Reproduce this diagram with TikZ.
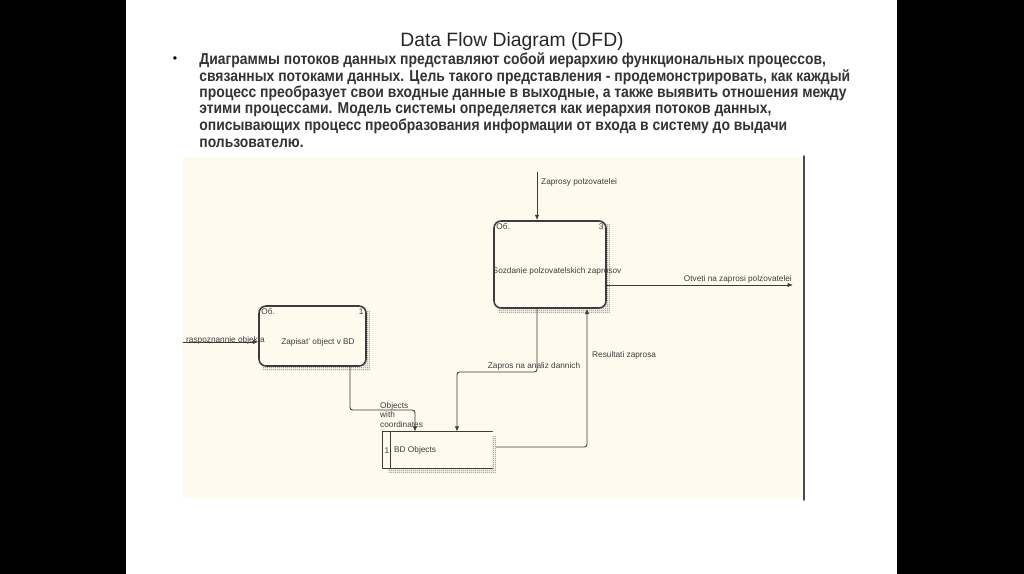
\documentclass[tikz,border=0pt]{standalone}
\usepackage{fontspec}
\setmainfont{Liberation Sans}
\newfontfamily\narrowfont[FakeStretch=0.88]{Liberation Sans Bold}
\usetikzlibrary{patterns,arrows.meta}
\definecolor{cream}{RGB}{255,250,238}
\definecolor{ink}{RGB}{60,60,60}
\pgfdeclarepatternformonly{finecheck}{\pgfpointorigin}{\pgfqpoint{1.2pt}{1.2pt}}{\pgfqpoint{1.2pt}{1.2pt}}{%
  \pgfpathrectangle{\pgfpointorigin}{\pgfqpoint{0.6pt}{0.6pt}}%
  \pgfpathrectangle{\pgfqpoint{0.6pt}{0.6pt}}{\pgfqpoint{0.6pt}{0.6pt}}%
  \pgfusepath{fill}}
\tikzset{
  proc/.style={draw=ink, line width=0.9pt, rounded corners=4pt, fill=cream, inner sep=0pt},
  shade/.style={pattern=finecheck, pattern color=gray},
  flow/.style={draw=ink, line width=0.5pt, rounded corners=1.5pt, -{Latex[length=3pt,width=2.5pt]}},
  tiny/.style={font=\fontsize{4.7}{5.6}\selectfont, inner sep=0.5pt, text=ink},
  bodyline/.style={anchor=west, inner sep=0pt, font=\narrowfont\fontsize{9}{10}\selectfont, text=black!80}
}
\begin{document}
\begin{tikzpicture}[x=0.02cm, y=-0.02cm, line join=round, line cap=round]
  % slide and side bars
  \fill[black] (0,0) rectangle (1024,574);
  \fill[white] (126,0) rectangle (897,574);
  \useasboundingbox (0,0) rectangle (1024,574);
  % heading and text
  \node[font=\fontsize{11}{12}\selectfont, text=black!85] (title) at (512,42) {Data Flow Diagram (DFD)};
  \node[font=\fontsize{7}{8}\selectfont] (bullet) at (175,60) {\textbullet};
  \node[bodyline] (l1) at (199,60) {Диаграммы потоков данных представляют собой иерархию функциональных процессов,};
  \node[bodyline] (l2) at (199,77) {связанных потоками данных. Цель такого представления - продемонстрировать, как каждый};
  \node[bodyline] (l3) at (199,93) {процесс преобразует свои входные данные в выходные, а также выявить отношения между};
  \node[bodyline] (l4) at (199,110) {этими процессами. Модель системы определяется как иерархия потоков данных,};
  \node[bodyline] (l5) at (199,126) {описывающих процесс преобразования информации от входа в систему до выдачи};
  \node[bodyline] (l6) at (199,143) {пользователю.};
  % diagram panel
  \fill[cream] (183,157) rectangle (804,498);
  \draw[gray!60!black, line width=1.1pt] (804,156) -- (804,500);

  % processes with hatched shadows
  \fill[shade] (263,310) rectangle (370,370);
  \node[proc, minimum width=107*0.02cm, minimum height=60*0.02cm] (p1) at (312.5,336) {};
  \fill[shade] (498,225) rectangle (610,312);
  \node[proc, minimum width=112*0.02cm, minimum height=87*0.02cm] (p3) at (550,264.5) {};
  \node[tiny, anchor=north west] (p1id) at ([shift={(2,2)}]p1.north west) {Об.};
  \node[tiny, anchor=north east] (p1no) at ([shift={(-2,2)}]p1.north east) {1};
  \node[tiny] (p1txt) at (318,342) {Zapisat' object v BD};
  \node[tiny, anchor=north west] (p3id) at ([shift={(2,2)}]p3.north west) {Об.};
  \node[tiny, anchor=north east] (p3no) at ([shift={(-2,2)}]p3.north east) {3};
  \node[tiny] (p3txt) at (557,271) {Sozdanie polzovatelskich zaprosov};

  % data store
  \fill[shade] (388,436) rectangle (496,472);
  \node[fill=cream, minimum width=109*0.02cm, minimum height=36*0.02cm, inner sep=0pt] (s) at (437.5,450) {};
  \draw[ink, line width=0.8pt] (s.north east) -- (s.north west) -- (s.south west) -- (s.south east);
  \draw[ink, line width=0.8pt] ([xshift=8*0.02cm]s.north west) -- ([xshift=8*0.02cm]s.south west);
  \node[tiny] (sno) at (387,451) {1};
  \node[tiny, anchor=west] (stxt) at (393,450) {BD Objects};

  % flows
  \coordinate (ext1) at (183,342);
  \coordinate (ext2) at (537,172);
  \coordinate (ext3) at (793,285);
  \draw[flow] (ext1) -- (ext1 -| p1.west);
  \node[tiny, anchor=west] (f1) at (185,340.5) {raspoznannie objekta};
  \draw[flow] (ext2) -- (ext2 |- p3.north);
  \node[tiny, anchor=west] (f2) at (540,182) {Zaprosy polzovatelei};
  \draw[flow] (ext3 -| p3.east) -- (ext3);
  \node[tiny, anchor=east] (f3) at (793,279) {Otveti na zaprosi polzovatelei};
  \draw[flow] (350,0 |- p1.south) -- (350,410) -- (415,410) -- (415,0 |- s.north);
  \node[tiny, anchor=north west, align=left, font=\fontsize{4.7}{5.4}\selectfont] (f4) at (379,401) {Objects\\with\\coordinates};
  \draw[flow] (537,0 |- p3.south) -- (537,372) -- (457,372) -- (457,0 |- s.north);
  \node[tiny] (f5) at (534,366) {Zapros na analiz dannich};
  \draw[flow] (496,447) -- (587,447) -- (587,0 |- p3.south);
  \node[tiny, anchor=west] (f6) at (591,355) {Resultati zaprosa};
\end{tikzpicture}
\end{document}
